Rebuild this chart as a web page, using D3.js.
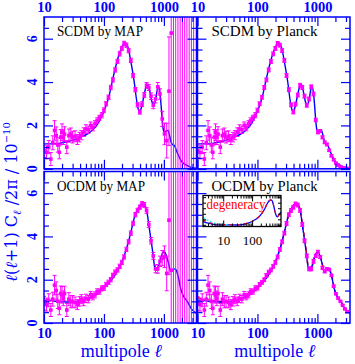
<!DOCTYPE html>
<html><head><meta charset="utf-8">
<script src="https://cdn.jsdelivr.net/npm/d3@7"></script>
<style>body{margin:0;background:#fff}svg{display:block}</style>
</head><body><svg id="c" width="355" height="364"></svg>
<script>
// ---------- data ----------
const ell = [10,11,12,13,14,15,16,17,18,19,20,21,22,24,26,28,30,
  33,36,39,42,46,50,55,60,65,71,77,84,92,
  100,109,119,130,141,154,168,183,199,
  217,237,258,281,306,334,364,397,432,471,514,560,610,665,725,790,861,
  939,1023,1115,1216,1325,1444,1574,1716,1870,2038,2222,2422,2640,2877,3136];
const scdmObs = [0.84,0.76,1.0,0.45,1.2,1.77,1.53,1.1,0.76,1.46,1.69,1.46,1.6,1.0,1.53,1.6,1.46,
  1.5,1.35,1.46,1.55,1.69,1.84,1.8,2.0,1.9,2.08,2.22,2.35,2.47,
  2.7,3.0,3.3,3.75,4.1,4.56,4.95,5.3,5.55,
  5.78,5.7,5.45,5.0,4.3,3.65,2.95,2.62,2.98,3.4,3.85,3.75,3.35,2.93,3.22,3.78,3.45,
  2.25,1.69,1.74,1.45,1.22,1.12,0.85,0.6,0.42,0.26,0.17,0.1,0.05,0.03,0.02];
const ocdmObs = [0.91,0.85,1.05,0.6,1.1,1.75,1.5,1.0,0.68,1.36,1.3,1.14,1.36,0.6,1.1,0.98,1.0,
  0.95,0.85,1.0,1.1,1.0,1.14,1.1,1.3,1.22,1.3,1.45,1.45,1.6,
  1.62,1.78,1.88,2.0,2.2,2.35,2.45,2.62,2.8,
  3.05,3.4,3.75,4.15,4.6,5.0,5.2,5.35,5.5,5.45,5.2,4.55,3.8,3.1,2.5,2.5,2.85,
  3.1,3.28,3.05,2.55,2.38,2.5,2.47,2.2,1.7,1.35,1.15,1.0,0.82,0.65,0.52];
// MAP measurements from l = 939 upward (huge noise)
const scdmMapTail = [2.3,1.61,1.3,3.58,6.26,-4,9,-6,10,-3,11,-5,9.5,-4,10];
const ocdmMapTail = [3.0,3.06,2.29,4.75,2.44,9,-5,10,-4,11,-6,9,-3,10,-5];
const mapErr = [0.32,0.3,0.3,0.3,0.32,0.45,0.4,0.33,0.3,0.35,0.38,0.34,0.34,0.3,0.3,0.28,0.27,
  0.25,0.23,0.22,0.21,0.2,0.19,0.17,0.16,0.15,0.14,0.13,0.12,0.12,
  0.11,0.1,0.1,0.1,0.1,0.1,0.1,0.1,0.1,
  0.1,0.1,0.1,0.1,0.1,0.1,0.1,0.1,0.11,0.12,0.13,0.14,0.15,0.16,0.18,0.2,0.24,
  0.35,0.5,0.8,2.5,9,20,20,20,20,20,20,20,20,20,20];
const planckErr = [0.32,0.3,0.3,0.3,0.32,0.45,0.4,0.33,0.3,0.35,0.38,0.34,0.34,0.3,0.3,0.28,0.27,
  0.25,0.23,0.22,0.21,0.2,0.19,0.17,0.16,0.15,0.14,0.13,0.12,0.12,
  0.1,0.09,0.09,0.09,0.09,0.09,0.09,0.09,0.09,
  0.09,0.09,0.09,0.09,0.09,0.09,0.09,0.09,0.09,0.09,0.09,0.09,0.09,0.09,0.09,0.09,0.09,
  0.08,0.08,0.07,0.07,0.06,0.06,0.05,0.05,0.05,0.04,0.04,0.03,0.03,0.03,0.03];

const scdmTheoryEll = [10,15,20,29,40,54,65,80,100,120,142,160,183,207,227,252,285,324,345,370,
  390,420,460,500,540,580,630,680,730,770,810,860,900,940,980,1020,1100,1170,1250,1320,
  1420,1500,1600,1710,1940,2200,2500,3000,3500];
const scdmTheory = [1.15,1.15,1.2,1.3,1.45,1.62,1.8,2.1,2.65,3.3,4.2,4.8,5.35,5.7,5.8,5.6,4.85,3.9,3.3,2.8,
  2.65,2.8,3.3,3.75,3.9,3.6,3.1,2.95,3.2,3.6,3.82,3.5,2.9,2.2,1.8,1.7,1.75,1.77,1.5,1.22,
  1.1,1.07,0.88,0.68,0.37,0.22,0.14,0.05,0.02];
const ocdmTheoryEll = [10,14,20,30,45,70,103,133,171,195,220,252,290,324,380,447,508,577,656,700,
  748,820,900,1020,1160,1320,1500,1600,1750,1900,2070,2300,2510,2840,3220,3500];
const ocdmTheory = [1.06,1.02,0.98,0.97,1.05,1.29,1.67,1.98,2.44,2.75,3.15,3.67,4.35,4.9,5.35,5.52,5.28,4.29,3.21,2.6,
  2.44,2.65,3.06,3.29,2.9,2.36,2.5,2.45,2.1,1.6,1.3,1.1,0.95,0.68,0.52,0.45];
const ocdmDegenerate = [1.15,1.08,1.01,0.98,1.05,1.3,1.66,1.98,2.44,2.75,3.15,3.67,4.35,4.9,5.35,5.5,5.3,4.36,3.26,2.62,
  2.44,2.65,3.06,3.27,2.92,2.38,2.48,2.45,2.15,1.65,1.3,1.1,0.95,0.68,0.52,0.45];

// inset: low-l degeneracy
const insetEll = [2,3,4,5,7,10,15,20,30,50,70,100,130,170,220,280,340,400,450,500,560,620,680,750,850,1000];
const insetBlue = [1.6,1.3,1.15,1.05,1.0,1.0,1.0,0.98,0.97,1.1,1.3,1.6,1.95,2.4,3.1,4.0,4.9,5.4,5.52,5.3,4.4,3.4,2.7,2.45,2.8,3.3];
const insetRed  = [1.9,1.5,1.3,1.15,1.08,1.06,1.02,1.0,0.98,1.1,1.3,1.62,1.95,2.45,3.1,4.0,4.9,5.4,5.5,5.3,4.45,3.4,2.7,2.45,2.8,3.3];
const insetCyanEll = [2,3,4,5,7,10,15];
const insetCyan = [2.3,1.8,1.5,1.3,1.15,1.1,1.04];

const xMajor = [10,100,1000];
const xMinor = [20,30,40,50,60,70,80,90,200,300,400,500,600,700,800,900,2000,3000];
const yLabels = [0,2,4,6];
const yTicks = d3.range(0.5,7,0.5);

// ---------- drawing ----------
const BLUE="#0000ff", MAG="#ff00ff", RED="#ff0000";
const svg = d3.select("#c");
const SERIF = "'Liberation Serif','DejaVu Serif',serif";

const panels = [
  {x0:44, x1:196.5, y0:17, y1:168.8, label:"SCDM by MAP", lw:86, model:"scdm", exp:"map", top:true, left:true},
  {x0:197.5, x1:350, y0:17, y1:168.8, label:"SCDM by Planck", lw:106, model:"scdm", exp:"planck", top:true, left:false},
  {x0:44, x1:196.5, y0:171.5, y1:323, label:"OCDM by MAP", lw:88, model:"ocdm", exp:"map", top:false, left:true},
  {x0:197.5, x1:350, y0:171.5, y1:323, label:"OCDM by Planck", lw:106, model:"ocdm", exp:"planck", top:false, left:false}
];

panels.forEach((p,pi)=>{
  const x = d3.scaleLog().domain([10,3500]).range([p.x0,p.x1]);
  const y = d3.scaleLinear().domain([0,7]).range([p.y1,p.y0]);
  const g = svg.append("g");
  const cid = "clip"+pi;
  svg.append("clipPath").attr("id",cid).append("rect")
    .attr("x",p.x0).attr("y",p.y0).attr("width",p.x1-p.x0).attr("height",p.y1-p.y0);
  const pg = g.append("g").attr("clip-path",`url(#${cid})`);

  const obs = p.model==="scdm" ? scdmObs : ocdmObs;
  const tail = p.model==="scdm" ? scdmMapTail : ocdmMapTail;
  const errs = p.exp==="map" ? mapErr : planckErr;
  const pts = ell.map((l,i)=>{
    let v = obs[i];
    if (p.exp==="map" && i>=56) v = tail[i-56];
    return {l, v, e: errs[i]};
  });

  // theory
  const tEll = p.model==="scdm" ? scdmTheoryEll : ocdmTheoryEll;
  const tVal = p.model==="scdm" ? scdmTheory : ocdmTheory;
  const line = d3.line().x(d=>x(d[0])).y(d=>y(d[1])).curve(d3.curveMonotoneX);
  if (p.model==="ocdm" && p.exp==="planck") {
    pg.append("path").attr("d", line(ocdmTheoryEll.map((l,i)=>[l,ocdmDegenerate[i]])))
      .attr("fill","none").attr("stroke",RED).attr("stroke-width",1.5).attr("stroke-dasharray","4,3");
  }
  pg.append("path").attr("d", line(tEll.map((l,i)=>[l,tVal[i]])))
    .attr("fill","none").attr("stroke",BLUE).attr("stroke-width",1.4);
  if (p.model==="ocdm" && p.exp==="planck") {
    pg.append("path").attr("d", line(ocdmTheoryEll.map((l,i)=>[l,ocdmDegenerate[i]])))
      .attr("fill","none").attr("stroke",RED).attr("stroke-width",1.2).attr("stroke-dasharray","2,7");
  }

  // error bars
  const eb = pg.append("g").attr("stroke",MAG).attr("stroke-width",1);
  pts.forEach(d=>{
    const cx = x(d.l), yt = y(d.v+d.e), yb = y(d.v-d.e);
    eb.append("line").attr("x1",cx).attr("x2",cx).attr("y1",yt).attr("y2",yb);
    eb.append("line").attr("x1",cx-2).attr("x2",cx+2).attr("y1",yt).attr("y2",yt);
    eb.append("line").attr("x1",cx-2).attr("x2",cx+2).attr("y1",yb).attr("y2",yb);
  });
  pg.append("g").selectAll("rect").data(pts).join("rect")
    .attr("x",d=>x(d.l)-1.8).attr("y",d=>y(d.v)-1.8).attr("width",3.6).attr("height",3.6)
    .attr("fill",MAG);

  // ticks (inward) using d3 axes
  const axG = g.append("g").attr("color",BLUE);
  const mk = (axis, tx, ty) => axG.append("g").attr("transform",`translate(${tx},${ty})`).call(axis)
    .call(s=>{s.select(".domain").remove(); s.selectAll("line").attr("stroke-width",1.2);});
  // top
  mk(d3.axisTop(x).tickValues(xMinor).tickSize(-5).tickFormat(""),0,p.y0);
  const topMaj = mk(d3.axisTop(x).tickValues(xMajor).tickSize(-9).tickPadding(5)
      .tickFormat(p.top? d3.format("d") : ""),0,p.y0);
  // bottom
  mk(d3.axisBottom(x).tickValues(xMinor).tickSize(-5).tickFormat(""),0,p.y1);
  const botMaj = mk(d3.axisBottom(x).tickValues(xMajor).tickSize(-9).tickPadding(5)
      .tickFormat(!p.top? d3.format("d") : ""),0,p.y1);
  // left / right
  mk(d3.axisLeft(y).tickValues(yTicks.filter(v=>v%2!==0)).tickSize(-5).tickFormat(""),p.x0,0);
  mk(d3.axisLeft(y).tickValues(yLabels).tickSize(-9).tickFormat(""),p.x0,0);
  mk(d3.axisRight(y).tickValues(yTicks.filter(v=>v%2!==0)).tickSize(-5).tickFormat(""),p.x1,0);
  mk(d3.axisRight(y).tickValues(yLabels).tickSize(-9).tickFormat(""),p.x1,0);
  [topMaj, botMaj].forEach(s=>s.selectAll("text")
     .attr("font-family",SERIF).attr("font-size",14.5).attr("font-weight","bold").attr("fill",BLUE));

  // frame
  g.append("rect").attr("x",p.x0).attr("y",p.y0).attr("width",p.x1-p.x0).attr("height",p.y1-p.y0)
    .attr("fill","none").attr("stroke",BLUE).attr("stroke-width",1.5);

  // y labels
  if (p.left) {
    yLabels.forEach(v=>{
      g.append("text").attr("transform",`translate(37,${y(v)}) rotate(-90)`)
        .attr("text-anchor","middle").attr("font-family",SERIF).attr("font-size",14)
        .attr("font-weight","bold").attr("fill",BLUE).text(v);
    });
  }
  // panel label
  g.append("text").attr("x",p.x0+(p.left?13:14)).attr("y",p.y0+19)
    .attr("font-family",SERIF).attr("font-size",15).attr("fill","#000")
    .attr("textLength",p.lw).attr("lengthAdjust","spacingAndGlyphs").text(p.label);

  if (!p.top) {
    const t = g.append("text").attr("x",(p.x0+p.x1)/2+1).attr("y",357).attr("text-anchor","middle")
      .attr("font-family",SERIF).attr("font-size",18).attr("fill",BLUE);
    t.append("tspan").text("multipole ");
    t.append("tspan").attr("font-style","italic").text("ℓ");
  }

  // inset
  if (p.model==="ocdm" && p.exp==="planck") {
    const ix0=203, ix1=281, iy0=195.5, iy1=226.5;
    const ixs = d3.scaleLog().domain([2,1000]).range([ix0,ix1]);
    const iys = d3.scaleLinear().domain([0.7,6.3]).range([iy1,iy0]);
    const ig = g.append("g");
    ig.append("rect").attr("x",ix0).attr("y",iy0).attr("width",ix1-ix0).attr("height",iy1-iy0).attr("fill","#fff");
    const il = d3.line().x(d=>ixs(d[0])).y(d=>iys(d[1])).curve(d3.curveMonotoneX);
    ig.append("path").attr("d",il(insetEll.map((l,i)=>[l,insetBlue[i]]))).attr("fill","none").attr("stroke",BLUE).attr("stroke-width",1.3);
    ig.append("path").attr("d",il(insetEll.map((l,i)=>[l,insetRed[i]]))).attr("fill","none").attr("stroke",RED).attr("stroke-width",1.2).attr("stroke-dasharray","3,4");
    ig.append("path").attr("d",il(insetCyanEll.map((l,i)=>[l,insetCyan[i]]))).attr("fill","none").attr("stroke","#00ffff").attr("stroke-width",1.2).attr("stroke-dasharray","2,2");
    const iMinor = [3,4,5,6,7,8,9,20,30,40,50,60,70,80,90,200,300,400,500,600,700,800,900];
    const imk = (axis,tx,ty)=>ig.append("g").attr("transform",`translate(${tx},${ty})`).call(axis)
      .call(s=>{s.select(".domain").remove(); s.selectAll("line").attr("stroke","#000");});
    imk(d3.axisTop(ixs).tickValues(iMinor).tickSize(-3).tickFormat(""),0,iy0);
    imk(d3.axisTop(ixs).tickValues([10,100]).tickSize(-6).tickFormat(""),0,iy0);
    imk(d3.axisBottom(ixs).tickValues(iMinor).tickSize(-3).tickFormat(""),0,iy1);
    const ib = imk(d3.axisBottom(ixs).tickValues([10,100]).tickSize(-6).tickPadding(9).tickFormat(d3.format("d")),0,iy1);
    ib.selectAll("text").attr("font-family",SERIF).attr("font-size",13).attr("fill","#000");
    const iyt = [1,2,3,4,5,6];
    imk(d3.axisLeft(iys).tickValues(iyt).tickSize(-3).tickFormat(""),ix0,0);
    imk(d3.axisRight(iys).tickValues(iyt).tickSize(-3).tickFormat(""),ix1,0);
    ig.append("rect").attr("x",ix0).attr("y",iy0).attr("width",ix1-ix0).attr("height",iy1-iy0)
      .attr("fill","none").attr("stroke","#000").attr("stroke-width",1.3);
    ig.append("text").attr("x",206.5).attr("y",209).attr("font-family",SERIF).attr("font-size",14)
      .attr("fill",RED).attr("textLength",59).attr("lengthAdjust","spacingAndGlyphs").text("degeneracy");
  }
});

// y axis title
const yt = svg.append("text").attr("transform","translate(17,202) rotate(-90)")
  .attr("text-anchor","middle").attr("font-family","'DejaVu Serif',serif").attr("font-size",16).attr("fill",BLUE);
yt.append("tspan").attr("font-style","italic").text("ℓ");
yt.append("tspan").text("(");
yt.append("tspan").attr("font-style","italic").text("ℓ");
yt.append("tspan").text("+1) C");
yt.append("tspan").attr("font-size",11).attr("dy",4).attr("font-style","italic").text("ℓ");
yt.append("tspan").attr("dy",-4).text(" /2π  / 10");
yt.append("tspan").attr("font-size",10).attr("dy",-7).text("−10");
</script></body></html>
